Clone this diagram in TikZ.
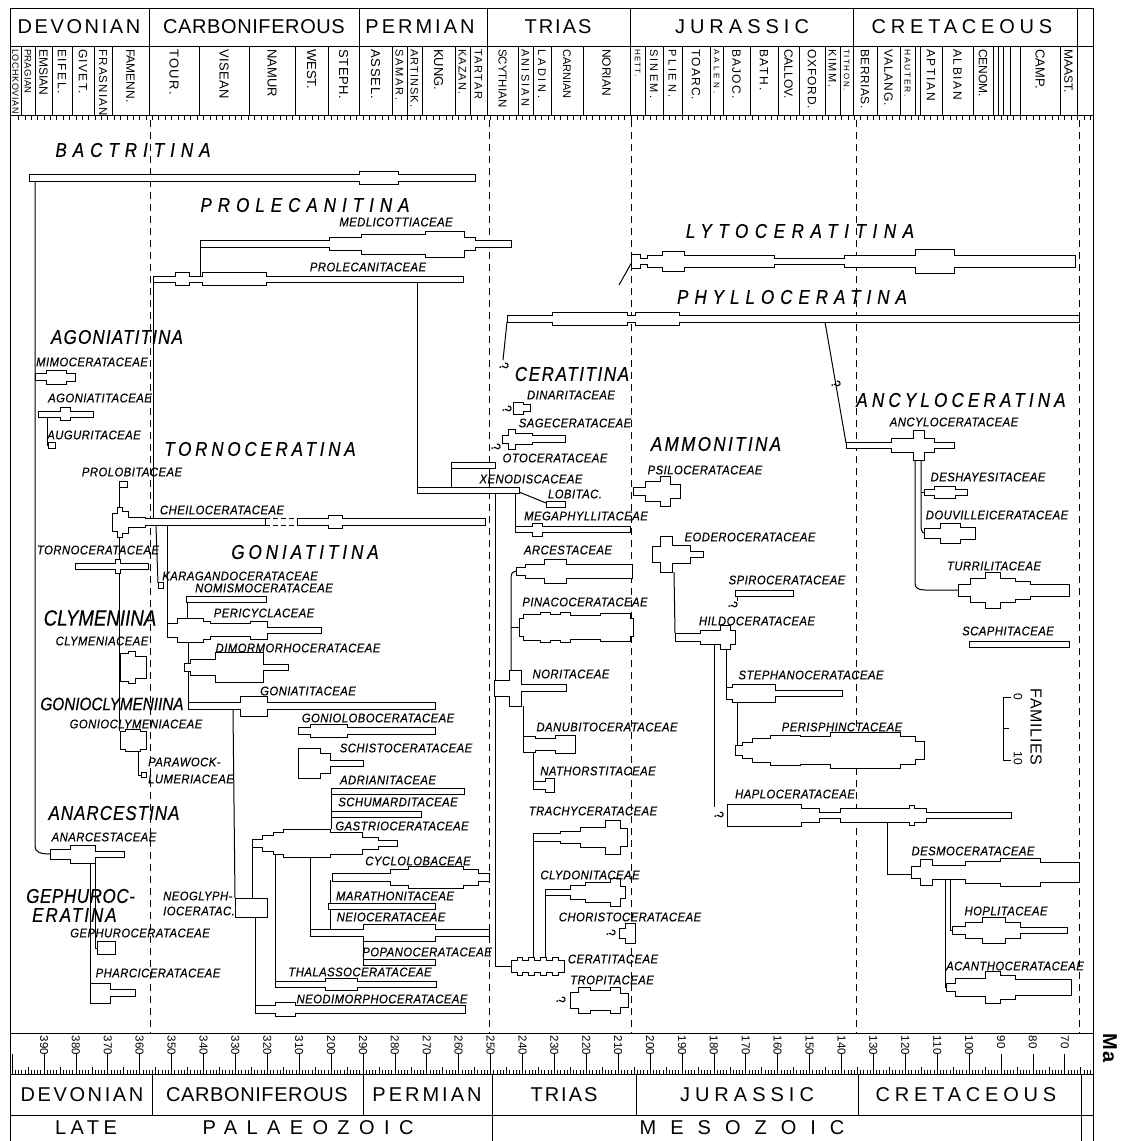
\documentclass[tikz,border=0pt]{standalone}
\usepackage{fontspec}
\newfontfamily\headfont{Liberation Sans}[LetterSpace=4]
\newfontfamily\stgfont{Liberation Sans}
\newfontfamily\taxfont{Liberation Sans}[FakeStretch=0.9,LetterSpace=4,FakeBold=0.4]
\newfontfamily\ttlfont{Liberation Sans}[FakeStretch=0.85,FakeBold=0.4]

\tikzset{
  lin/.style={line width=1pt},
  tick/.style={line width=0.7pt},
  bound/.style={line width=0.9pt,dash pattern=on 7pt off 5pt},
  spin/.style={line width=1pt,fill=white},
  taxon/.style={font=\taxfont\itshape\fontsize{12.5}{12.5}\selectfont,inner sep=0pt},
  ttl/.style={font=\ttlfont\itshape\fontsize{20}{20}\selectfont,inner sep=0pt},
  stg/.style={rotate=-90,anchor=west,inner sep=0pt},
  per/.style={font=\headfont\fontsize{20}{20}\selectfont,inner sep=0pt},
  qm/.style={font=\taxfont\fontsize{13}{13}\selectfont,rotate=-70,inner sep=0pt}
}

% stepped spindle: #1 = axis y, #2 = first x, #3 = x/halfwidth steps
\newcommand{\spindle}[3]{%
  \filldraw[spin] (#2,#1) foreach \xx/\hh [remember=\hh as \hp (initially 0)] in {#3} {-- (\xx,#1-\hp) -- (\xx,#1-\hh)};
  \filldraw[spin] (#2,#1) foreach \xx/\hh [remember=\hh as \hp (initially 0)] in {#3} {-- (\xx,#1+\hp) -- (\xx,#1+\hh)};
}

\begin{document}
\begin{tikzpicture}[x=1pt,y=-1pt]
\useasboundingbox (0,0) rectangle (1121,1141);

% header
\draw[lin] (10,8) -- (1093,8);
\draw[lin] (10,8) -- (10,1141);
\draw[lin] (1093,8) -- (1093,1141);
\draw[lin] (10,46) -- (1093,46);
\draw[lin] (10,115) -- (1093,115);
\foreach \xb in {149,359,487,630,853,1077}
  \draw[lin] (\xb,8) -- (\xb,115);
\node[per] (hdev) at (79,27) {\addfontfeature{LetterSpace=13}DEVONIAN};
\node[per] (hcar) at (254,27) {\addfontfeature{LetterSpace=3}CARBONIFEROUS};
\node[per] (hper) at (420,27) {\addfontfeature{LetterSpace=15}PERMIAN};
\node[per] (htri) at (558,27) {\addfontfeature{LetterSpace=10}TRIAS};
\node[per] (hjur) at (742,27) {\addfontfeature{LetterSpace=25}JURASSIC};
\node[per] (hcre) at (962,27) {\addfontfeature{LetterSpace=24}CRETACEOUS};

\foreach \xa/\xb/\lab/\sz/\ls in {10/21/LOCHKOVIAN/9/7, 21/35/PRAGIAN/9.5/3, 35/52/EMSIAN/12/0,
  52/72/EIFEL./12/14, 72/94/GIVET./12/11, 94/112/FRASNIAN/11.5/11, 112/149/FAMENN./12/0,
  149/199/TOUR./13/11, 199/249/VISEAN/13/3, 249/295/NAMUR/13/0, 295/328/WEST./13/0,
  328/359/STEPH./13/5, 359/392/ASSEL./13/7, 392/407/SAMAR./11/16, 407/422/ARTINSK./11/10,
  422/455/KUNG./13/0, 455/470/KAZAN./11/10, 470/487/TARTAR/11/14, 487/518/SCYTHIAN/11.5/0,
  518/533/ANISIAN/11/20, 533/551/LADIN./11/25, 551/583/CARNIAN/11/0, 583/630/NORIAN/12/0,
  630/645/HETT./8/15, 645/663/SINEM./11/20, 663/682/PLIEN./11/25, 682/710/TOARC./12/10,
  710/723/AALEN./8/40, 723/750/BAJOC./12/10, 750/778/BATH./12/14, 778/799/CALLOV./12/0,
  799/825/OXFORD./12/7, 825/840/KIMM./11/15, 840/853/TITHON./8/20, 853/877/BERRIAS./12/4,
  877/900/VALANG./12/8, 900/915/HAUTER./8.5/20, 915/920/{}/7/0, 920/942/APTIAN/12/14,
  942/973/ALBIAN/12/14, 973/993/CENOM./12/0, 993/998/{}/7/0, 998/1003/{}/7/0,
  1003/1010/{}/7/0, 1010/1020/{}/7/0, 1020/1060/CAMP./13/0, 1060/1077/MAAST./12/0,
  1077/1093/{}/7/0} {
  \draw[tick] (\xb,46) -- (\xb,115);
  \node[stg,font=\stgfont\fontsize{\sz}{\sz}\selectfont] at ({(\xa+\xb)/2},49) {\addfontfeature{LetterSpace=\ls}\lab};
}
\foreach \m in {62,64,...,398} {
  \pgfmathsetmacro\xx{44+(390-\m)*3.19}
  \draw[tick] (\xx,115) -- (\xx,120);
}

% time scale
\draw[lin] (10,1033) -- (1093,1033);
\draw[lin] (10,1074) -- (1093,1074);
\draw[lin] (10,1115) -- (1093,1115);
\foreach \xb in {152,363,492,636,858,1081}
  \draw[lin] (\xb,1074) -- (\xb,1115);
\foreach \xb in {492,1081}
  \draw[lin] (\xb,1115) -- (\xb,1141);
\foreach \m in {61,...,400} {
  \pgfmathsetmacro\xx{44+(390-\m)*3.19}
  \pgfmathsetmacro\tl{mod(\m,10)==0 ? 20 : (mod(\m,5)==0 ? 7 : 4)}
  \draw[tick] (\xx,1074) -- (\xx,1074-\tl);
}
\foreach \m/\t in {390/390,380/380,370/370,360/360,350/350,340/340,330/330,320/320,
  310/310,300/200,290/290,280/280,270/270,260/260,250/250,240/240,230/230,220/220,
  210/210,200/200,190/190,180/180,170/170,160/160,150/150,140/140,130/130,120/120,
  110/110,100/100,90/90,80/80,70/70} {
  \pgfmathsetmacro\xx{44+(390-\m)*3.19}
  \node[rotate=-90,anchor=west,inner sep=0pt,font=\headfont\fontsize{11.5}{11.5}\selectfont] at (\xx,1035) {\t};
}
\node[rotate=-90,inner sep=0pt,font=\headfont\bfseries\fontsize{20}{20}\selectfont] (ma) at (1110,1048) {Ma};
\node[per] (bdev) at (82,1095) {\addfontfeature{LetterSpace=13}DEVONIAN};
\node[per] (bcar) at (257,1095) {\addfontfeature{LetterSpace=3}CARBONIFEROUS};
\node[per] (bper) at (427,1095) {\addfontfeature{LetterSpace=15}PERMIAN};
\node[per] (btri) at (564,1095) {\addfontfeature{LetterSpace=10}TRIAS};
\node[per] (bjur) at (747,1095) {\addfontfeature{LetterSpace=25}JURASSIC};
\node[per] (bcre) at (966,1095) {\addfontfeature{LetterSpace=24}CRETACEOUS};
\node[per] (late) at (86,1128) {\addfontfeature{LetterSpace=22}LATE};
\node[per] (palaeo) at (308,1128) {\addfontfeature{LetterSpace=47}PALAEOZOIC};
\node[per] (meso) at (742,1128) {\addfontfeature{LetterSpace=70}MESOZOIC};

% period boundaries
\foreach \xb in {150,489,631,856,1079}
  \draw[bound] (\xb,120) -- (\xb,1033);

% connectors
\draw[lin] (35,181) -- (35,846) .. controls (35,852) and (40,854) .. (50,854);
\draw[lin] (200,247) -- (200,276);
\draw[lin] (153,282) -- (153,518);
\draw[lin] (417,282) -- (417,487);
\draw[lin] (451,468) -- (451,487);
\draw[lin] (519,492) -- (546,503);
\draw[lin] (515,493) -- (515,526);
\draw[lin] (495,493) -- (495,966) -- (511,966);
\draw[lin] (511,672) -- (511,578) .. controls (511,573) and (513,571) .. (516,571);
\draw[lin] (511,627) -- (519,627);
\draw[lin] (523,706) -- (523,736);
\draw[lin] (533,752) -- (533,781);
\draw[lin] (533,957) -- (533,841);
\draw[lin] (545,957) -- (545,895);
\draw[lin] (674,572) -- (675,633);
\draw[lin] (714,641) -- (714,807);
\draw[lin] (726,641) -- (726,687);
\draw[lin] (737,702) -- (737,745);
\draw[lin] (887,822) -- (887,874) -- (911,874);
\draw[lin] (950,880) -- (950,930) -- (952,930);
\draw[lin] (945,880) -- (945,987) -- (946,987);
\draw[lin] (507,322) -- (503,360);
\draw[lin] (825,322) -- (846,443);
\draw[lin] (921,452) -- (921,525) .. controls (921,530) and (922,533) .. (924,533);
\draw[lin] (921,492) -- (924,492);
\draw[lin] (915,452) -- (915,583) .. controls (915,588) and (918,590) .. (925,590) -- (958,590);
\draw[lin] (156,526) -- (158,583);
\draw[lin] (167,526) -- (167,623);
\draw[lin] (187,602) -- (187,618);
\draw[lin] (188,642) -- (188,703);
\draw[lin] (233,710) -- (235,898);
\draw[lin] (252,847) -- (252,898);
\draw[lin] (255,917) -- (255,1005);
\draw[lin] (275,853) -- (275,981);
\draw[lin] (310,856) -- (310,930);
\draw[lin] (331,794) -- (331,829);
\draw[lin] (330,880) -- (330,930);
\draw[lin] (363,941) -- (363,959);
\draw[lin] (119,537) -- (119,731);
\draw[lin] (119,487) -- (119,507);
\draw[lin] (138,750) -- (138,775) -- (141,775);
\draw[lin] (47,417) -- (47,445) -- (48,445);
\draw[lin] (95,863) -- (95,948) -- (97,948);
\draw[lin] (90,863) -- (90,983);
\draw[lin] (619,285) -- (632,262);
\draw[lin] (737,596) -- (737,601);
\draw[lin,dash pattern=on 5pt off 3pt] (265,518.5) -- (297,518.5) (265,525.5) -- (297,525.5);

% families scale
\draw[lin] (1011,697) -- (1003,697) -- (1003,760) -- (1011,760);
\draw[lin] (1003,728) -- (1009,728);
\node[rotate=-90,inner sep=0pt,font=\headfont\fontsize{12}{12}\selectfont] (s0) at (1018,697) {0};
\node[rotate=-90,inner sep=0pt,font=\headfont\fontsize{12}{12}\selectfont] (s10) at (1018,758) {10};
\node[rotate=-90,inner sep=0pt,font=\headfont\fontsize{16}{16}\selectfont] (fam) at (1036,727) {FAMILIES};

% spindles
\spindle{178}{29}{29/3.5, 359/6.5, 398/3.5, 475/0}
\spindle{244}{200}{200/3.2, 329/6.7, 361/10, 425/13, 464/6.7, 475/3.2, 511/0}
\spindle{279}{153}{153/3, 175/6.7, 189/3, 202/6.7, 266/3, 463/0}
\spindle{261}{631}{631/7, 640/3, 647/6, 662/10, 684/6, 774/3, 844/6, 915/12, 954/6, 1075/0}
\spindle{319}{507}{507/3.3, 552/6.7, 627/3.3, 635/6.7, 679/3.3, 1079/0}
\spindle{377}{35}{35/3.5, 46/7, 66/4, 75/0}
\spindle{414}{38}{38/3, 60/6.5, 70/3, 93/0}
\spindle{445}{48}{48/3, 55/0}
\spindle{484}{119}{119/3, 127/0}
\spindle{522}{112}{112/9, 117/15, 122/11, 128/5, 145/3.5, 265/0}
\spindle{522}{297}{297/3.5, 328/6.5, 342/3.5, 485/0}
\spindle{566}{75}{75/3, 115/7, 120/3, 148/0}
\spindle{585}{158}{158/3, 163/0}
\spindle{599}{186}{186/3, 266/0}
\spindle{630}{167}{167/7, 177/12, 203/9, 210/6.5, 250/9, 267/3, 321/0}
\spindle{667}{120}{120/14, 128/16, 135/11, 146/0}
\spindle{667}{184}{184/4, 190/8, 215/15, 263/3, 288/0}
\spindle{706}{188}{188/3.5, 240/10, 267/3.5, 435/0}
\spindle{740}{120}{120/9, 125/11, 140/9, 146/0}
\spindle{731}{298}{298/3.5, 310/6.5, 347/3.5, 435/0}
\spindle{763}{298}{298/15, 320/10, 330/3, 363/0}
\spindle{775}{141}{141/2.5, 146/0}
\spindle{791}{331}{331/3, 464/0}
\spindle{814}{331}{331/3, 421/0}
\spindle{843}{252}{252/4, 262/8, 273/11, 283/14, 330/11, 362/6, 378/3, 397/0}
\spindle{877}{332}{332/4, 390/8, 408/11, 463/8, 478/4, 489/0}
\spindle{906}{328}{328/3, 435/0}
\spindle{933}{310}{310/3.3, 363/8.7, 435/3.3, 489/0}
\spindle{907.5}{235}{235/9.5, 267/0}
\spindle{962}{363}{363/3, 435/0}
\spindle{984}{275}{275/3, 325/6, 357/3, 436/0}
\spindle{1009}{255}{255/4, 275/7, 295/4, 465/0}
\spindle{854}{50}{50/5, 70/9, 95/3, 124/0}
\spindle{948}{97}{97/6.5, 115/0}
\spindle{993}{90}{90/10, 110/3.5, 135/0}
\spindle{465}{451}{451/3, 495/0}
\spindle{490}{417}{417/3, 519/0}
\spindle{504}{546}{546/3, 565/0}
\spindle{529.5}{515}{515/3, 532/6.5, 542/3, 630/0}
\spindle{408}{513}{513/6, 523/3.5, 530/0}
\spindle{439}{502}{502/4, 508/10, 515/5.5, 532/3.5, 565/0}
\spindle{571}{516}{516/4, 525/7, 544/12, 566/7, 632/0}
\spindle{627}{519}{519/9, 523/13, 540/15, 550/13, 560/15, 570/12, 600/14, 630/9, 633/0}
\spindle{688}{494}{494/8, 509/18, 521/3.5, 566/0}
\spindle{744}{523}{523/8, 535/6, 555/9, 575/0}
\spindle{785}{533}{533/4, 545/7, 554/0}
\spindle{837}{533}{533/4, 560/6, 580/10, 605/17, 620/9, 627/0}
\spindle{892}{545}{545/3, 570/7, 585/10, 610/14, 620/6, 625/0}
\spindle{933}{619}{619/5, 625/10, 635/0}
\spindle{966}{511}{511/6, 517/9, 522/6, 528/9, 534/6, 540/9, 546/6, 552/9, 558/6, 564/0}
\spindle{1000}{570}{570/8, 578/13, 590/10, 610/13, 620/7, 628/0}
\spindle{491}{633}{633/4, 645/10, 660/15, 670/7, 680/0}
\spindle{554}{652}{652/8, 660/18, 672/9, 690/3, 703/0}
\spindle{593}{735}{735/3, 793/0}
\spindle{637}{675}{675/4, 700/7, 720/12, 730/7, 735/0}
\spindle{693}{726}{726/6, 732/9, 775/3, 842/0}
\spindle{750}{735}{735/5, 742/8, 752/12, 770/15, 800/14, 830/18, 900/14, 915/9, 924/0}
\spindle{815}{727}{727/11, 801/7, 819/3, 840/7, 909/10, 914/7, 926/3, 1011/0}
\spindle{445}{846}{846/3, 891/7, 913/15, 924/7, 934/3, 954/0}
\spindle{492}{924}{924/3, 934/6, 955/3, 967/0}
\spindle{533}{924}{924/5, 940/10, 960/6, 975/0}
\spindle{590}{958}{958/6, 970/12, 985/18, 1000/12, 1015/9, 1030/6, 1069/0}
\spindle{644}{969}{969/3, 1069/0}
\spindle{872}{911}{911/6, 920/13, 932/7, 965/11, 1000/14, 1040/10, 1079/0}
\spindle{930}{952}{952/4, 965/8, 982/13, 1005/8, 1020/3, 1067/0}
\spindle{987}{946}{946/4, 955/9, 985/16, 1000/12, 1015/8, 1071/0}

% suborder titles
\node[ttl] (bactr) at (133,150) {\addfontfeature{LetterSpace=30}BACTRITINA};
\node[ttl] (prolec) at (305,205) {\addfontfeature{LetterSpace=30}PROLECANITINA};
\node[ttl] (lyto) at (800,231) {\addfontfeature{LetterSpace=33}LYTOCERATITINA};
\node[ttl] (phyllo) at (792,297) {\addfontfeature{LetterSpace=30}PHYLLOCERATINA};
\node[ttl] (cerat) at (572,374) {\addfontfeature{LetterSpace=8}CERATITINA};
\node[ttl] (ancylo) at (961,400) {\addfontfeature{LetterSpace=21}ANCYLOCERATINA};
\node[ttl] (agon) at (117,337) {\addfontfeature{LetterSpace=6}AGONIATITINA};
\node[ttl] (torno) at (260,449) {\addfontfeature{LetterSpace=19}TORNOCERATINA};
\node[ttl] (ammon) at (716,444) {\addfontfeature{LetterSpace=12}AMMONITINA};
\node[ttl] (goniat) at (305,552) {\addfontfeature{LetterSpace=20}GONIATITINA};
\node[ttl,font=\ttlfont\itshape\fontsize{22}{22}\selectfont] (clym) at (100,618) {CLYMENIINA};
\node[ttl,font=\ttlfont\itshape\fontsize{18}{18}\selectfont] (gonioc) at (112,704) {GONIOCLYMENIINA};
\node[ttl] (anarc) at (114,813) {\addfontfeature{LetterSpace=5}ANARCESTINA};
\node[ttl,anchor=west] (gephA) at (26,896) {\addfontfeature{LetterSpace=3}GEPHUROC-};
\node[ttl,anchor=west] (gephB) at (32,915) {\addfontfeature{LetterSpace=10}ERATINA};

% superfamily labels
\node[taxon] (medl) at (396,222) {MEDLICOTTIACEAE};
\node[taxon] (prol) at (368,267) {PROLECANITACEAE};
\node[taxon] (mimo) at (92,362) {MIMOCERATACEAE};
\node[taxon] (agonc) at (100,398) {AGONIATITACEAE};
\node[taxon] (augu) at (94,435) {AUGURITACEAE};
\node[taxon] (prolo) at (132,472) {PROLOBITACEAE};
\node[taxon] (cheil) at (222,510) {CHEILOCERATACEAE};
\node[taxon] (tornc) at (98,550) {TORNOCERATACEAE};
\node[taxon] (karag) at (240,576) {KARAGANDOCERATACEAE};
\node[taxon] (nomis) at (264,588) {NOMISMOCERATACEAE};
\node[taxon] (peric) at (264,613) {PERICYCLACEAE};
\node[taxon] (clymc) at (102,641) {CLYMENIACEAE};
\node[taxon] (dimor) at (298,648) {DIMORMORHOCERATACEAE};
\node[taxon] (goniac) at (308,691) {GONIATITACEAE};
\node[taxon] (goncl) at (136,724) {GONIOCLYMENIACEAE};
\node[taxon] (gonlo) at (378,718) {GONIOLOBOCERATACEAE};
\node[taxon] (schis) at (406,748) {SCHISTOCERATACEAE};
\node[taxon,anchor=west] (paraA) at (148,762) {PARAWOCK-};
\node[taxon,anchor=west] (paraB) at (148,779) {LUMERIACEAE};
\node[taxon] (adri) at (388,780) {ADRIANITACEAE};
\node[taxon] (schum) at (398,802) {SCHUMARDITACEAE};
\node[taxon] (gastr) at (402,826) {GASTRIOCERATACEAE};
\node[taxon] (anarcc) at (104,837) {ANARCESTACEAE};
\node[taxon] (cyclo) at (418,861) {CYCLOLOBACEAE};
\node[taxon] (marat) at (395,896) {MARATHONITACEAE};
\node[taxon,anchor=west] (neogA) at (163,896) {NEOGLYPH-};
\node[taxon,anchor=west] (neogB) at (163,911) {IOCERATAC.};
\node[taxon] (neioc) at (391,917) {NEIOCERATACEAE};
\node[taxon] (gephc) at (140,933) {GEPHUROCERATACEAE};
\node[taxon] (popan) at (427,952) {POPANOCERATACEAE};
\node[taxon] (thala) at (360,972) {THALASSOCERATACEAE};
\node[taxon] (pharc) at (158,973) {PHARCICERATACEAE};
\node[taxon] (neodi) at (382,999) {NEODIMORPHOCERATACEAE};
\node[taxon] (otoc) at (555,458) {OTOCERATACEAE};
\node[taxon] (xeno) at (531,479) {XENODISCACEAE};
\node[taxon] (lobit) at (575,494) {LOBITAC.};
\node[taxon] (megap) at (586,516) {MEGAPHYLLITACEAE};
\node[taxon] (dinar) at (571,395) {DINARITACEAE};
\node[taxon] (sagec) at (575,423) {SAGECERATACEAE};
\node[taxon] (arces) at (568,550) {ARCESTACEAE};
\node[taxon] (pinac) at (585,602) {PINACOCERATACEAE};
\node[taxon] (norit) at (571,674) {NORITACEAE};
\node[taxon] (danub) at (607,727) {DANUBITOCERATACEAE};
\node[taxon] (natho) at (598,771) {NATHORSTITACEAE};
\node[taxon] (trach) at (593,811) {TRACHYCERATACEAE};
\node[taxon] (clydo) at (590,875) {CLYDONITACEAE};
\node[taxon] (chori) at (630,917) {CHORISTOCERATACEAE};
\node[taxon] (ceratc) at (613,959) {CERATITACEAE};
\node[taxon] (tropi) at (612,980) {TROPITACEAE};
\node[taxon] (psilo) at (705,470) {PSILOCERATACEAE};
\node[taxon] (eoder) at (750,537) {EODEROCERATACEAE};
\node[taxon] (spiro) at (787,580) {SPIROCERATACEAE};
\node[taxon] (hildo) at (757,621) {HILDOCERATACEAE};
\node[taxon] (steph) at (811,675) {STEPHANOCERATACEAE};
\node[taxon] (peris) at (842,727) {PERISPHINCTACEAE};
\node[taxon] (haplo) at (795,794) {HAPLOCERATACEAE};
\node[taxon] (ancyc) at (954,422) {ANCYLOCERATACEAE};
\node[taxon] (desha) at (988,477) {DESHAYESITACEAE};
\node[taxon] (douvi) at (997,515) {DOUVILLEICERATACEAE};
\node[taxon] (turri) at (994,566) {TURRILITACEAE};
\node[taxon] (scaph) at (1008,631) {SCAPHITACEAE};
\node[taxon] (desmo) at (973,851) {DESMOCERATACEAE};
\node[taxon] (hopli) at (1006,911) {HOPLITACEAE};
\node[taxon] (acant) at (1015,966) {ACANTHOCERATACEAE};

% question marks
\node[qm] (q1) at (504,366) {?};
\node[qm] (q2) at (507,409) {?};
\node[qm] (q3) at (496,447) {?};
\node[qm] (q4) at (836,384) {?};
\node[qm] (q5) at (733,605) {?};
\node[qm] (q6) at (719,815) {?};
\node[qm] (q7) at (611,933) {?};
\node[qm] (q8) at (561,1000) {?};
\end{tikzpicture}
\end{document}
